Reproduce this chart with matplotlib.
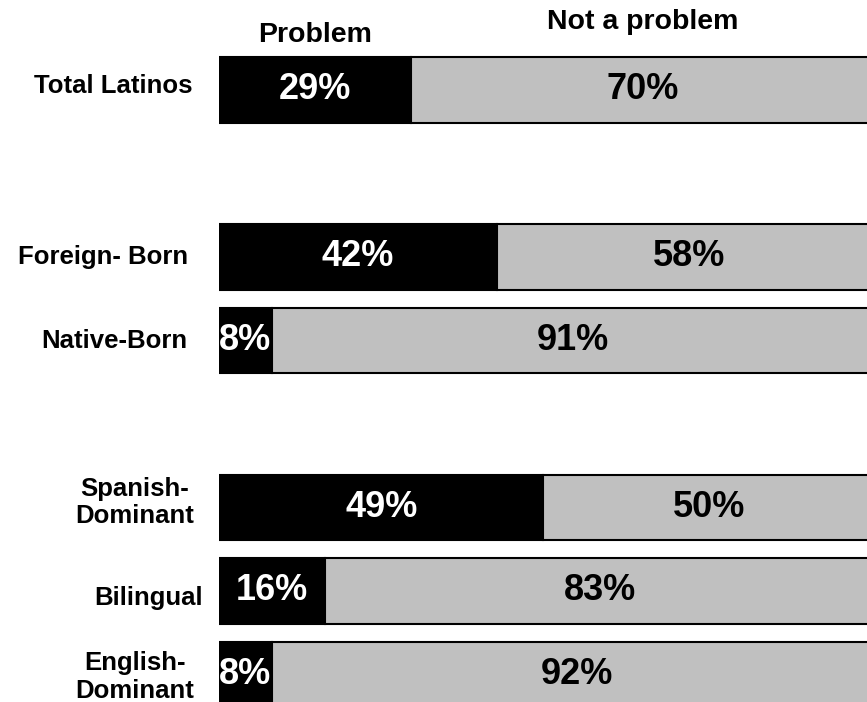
import matplotlib.pyplot as plt

plt.rcParams['font.family'] = ['Liberation Sans', 'DejaVu Sans']

categories = ['Total Latinos', 'Foreign- Born', 'Native-Born',
              'Spanish-\nDominant', 'Bilingual', 'English-\nDominant']
problem = [29, 42, 8, 49, 16, 8]
not_problem = [70, 58, 91, 50, 83, 92]
headers = ['Problem', 'Not a problem']

# row slots (gaps between groups)
rows = [0, 2, 3, 5, 6, 7]
label_x = [113, 103, 114, 135, 149, 135]   # label centers in pixels
label_dy = [-0.05, 0, 0, -0.06, 0.08, 0.03]

W, H = 867, 702
fig = plt.figure(figsize=(W / 100, H / 100), dpi=100)
row_px = 83.5
top_px = 90
x0, width = 219, 662
ax = fig.add_axes([x0 / W, 0, width / W, 1])
ax.set_xlim(0, 100)
ax.set_ylim((H - top_px) / row_px, -top_px / row_px)
ax.axis('off')

ax.barh(rows, problem, height=0.78, color='black', edgecolor='black', linewidth=1.5)
ax.barh(rows, not_problem, left=problem, height=0.78, color='#C0C0C0',
        edgecolor='black', linewidth=1.5)

for r, p, n in zip(rows, problem, not_problem):
    ax.text(p / 2, r, f'{p}%', ha='center', va='center', color='white',
            fontsize=26, fontweight='bold')
    ax.text(p + n / 2, r, f'{n}%', ha='center', va='center', color='black',
            fontsize=26, fontweight='bold')

for r, lab, lx, dy in zip(rows, categories, label_x, label_dy):
    fig.text(lx / W, 1 - (top_px + (r + dy) * row_px) / H, lab,
             ha='center', va='center', fontsize=18.5, fontweight='bold',
             linespacing=1.2)

ax.text(problem[0] / 2, -0.66, headers[0], ha='center', va='center',
        fontsize=20.5, fontweight='bold')
ax.text(problem[0] + not_problem[0] / 2, -0.81, headers[1], ha='center', va='center',
        fontsize=20.5, fontweight='bold')

fig.savefig('out.png', dpi=100)
